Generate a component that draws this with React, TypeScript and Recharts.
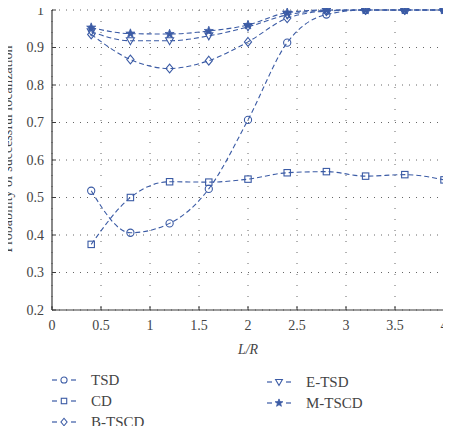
import React from "react";
import { LineChart, Line, XAxis, YAxis, CartesianGrid, Legend, Label } from "recharts";

const xValues = [0.4, 0.8, 1.2, 1.6, 2.0, 2.4, 2.8, 3.2, 3.6, 4.0];
const tsd = [0.518, 0.406, 0.431, 0.523, 0.707, 0.913, 0.988, 1, 1, 1];
const cd = [0.375, 0.5, 0.542, 0.541, 0.549, 0.566, 0.569, 0.557, 0.561, 0.547];
const bTscd = [0.935, 0.868, 0.844, 0.865, 0.915, 0.978, 0.997, 1, 1, 1];
const eTsd = [0.942, 0.918, 0.918, 0.931, 0.955, 0.987, 0.999, 1, 1, 1];
const mTscd = [0.953, 0.937, 0.936, 0.944, 0.96, 0.993, 1, 1, 1, 1];

const xTicks = [0, 0.5, 1, 1.5, 2, 2.5, 3, 3.5, 4];
const yTicks = [0.2, 0.3, 0.4, 0.5, 0.6, 0.7, 0.8, 0.9, 1];

const COLOR = "#3b5ba5";
const FRAME = "#3a3a3a";
const TEXT = "#444";
const FONT = "Liberation Serif";

type Shape = "circle" | "square" | "diamond" | "triangleDown" | "star";

const series: { key: string; name: string; shape: Shape; values: number[] }[] = [
  { key: "tsd", name: "TSD", shape: "circle", values: tsd },
  { key: "cd", name: "CD", shape: "square", values: cd },
  { key: "eTsd", name: "E-TSD", shape: "triangleDown", values: eTsd },
  { key: "mTscd", name: "M-TSCD", shape: "star", values: mTscd },
  { key: "bTscd", name: "B-TSCD", shape: "diamond", values: bTscd },
];

const data = xValues.map((x, i) => {
  const row: Record<string, number> = { x };
  series.forEach((s) => {
    row[s.key] = s.values[i];
  });
  return row;
});

function starPath(cx: number, cy: number, ro: number, ri: number) {
  let d = "";
  for (let i = 0; i < 10; i++) {
    const r = i % 2 === 0 ? ro : ri;
    const a = -Math.PI / 2 + (i * Math.PI) / 5;
    d += (i === 0 ? "M" : "L") + (cx + r * Math.cos(a)).toFixed(2) + "," + (cy + r * Math.sin(a)).toFixed(2);
  }
  return d + "Z";
}

function Marker({ shape, cx, cy, s = 1 }: { shape: Shape; cx: number; cy: number; s?: number }) {
  const common = { stroke: COLOR, strokeWidth: 1.1, fill: "none" };
  switch (shape) {
    case "circle":
      return <circle cx={cx} cy={cy} r={3.6 * s} {...common} />;
    case "square":
      return <rect x={cx - 3.2 * s} y={cy - 3.2 * s} width={6.4 * s} height={6.4 * s} {...common} />;
    case "diamond":
      return (
        <path
          d={`M${cx},${cy - 4.4 * s}L${cx + 3.6 * s},${cy}L${cx},${cy + 4.4 * s}L${cx - 3.6 * s},${cy}Z`}
          {...common}
        />
      );
    case "triangleDown":
      return (
        <path
          d={`M${cx - 4 * s},${cy - 3 * s}L${cx + 4 * s},${cy - 3 * s}L${cx},${cy + 4 * s}Z`}
          {...common}
        />
      );
    case "star":
      return <path d={starPath(cx, cy, 4.8 * s, 2 * s)} stroke={COLOR} strokeWidth={0.8} fill={COLOR} />;
  }
  return null;
}

const legendLeft = [series[0], series[1], series[4]];
const legendRight = [series[2], series[3]];

function LegendItem({ s, left, top }: { s: (typeof series)[number]; left: number; top: number }) {
  return (
    <div style={{ position: "absolute", left, top, height: 18, display: "flex", alignItems: "center" }}>
      <svg width={27} height={14} style={{ display: "block" }}>
        <line x1={1} y1={7} x2={6} y2={7} stroke={COLOR} strokeWidth={1.2} />
        <line x1={20} y1={7} x2={25} y2={7} stroke={COLOR} strokeWidth={1.2} />
        <Marker shape={s.shape} cx={13} cy={7} s={0.85} />
      </svg>
      <span
        style={{
          marginLeft: 13,
          fontFamily: FONT,
          fontSize: 15,
          color: TEXT,
          lineHeight: "18px",
          whiteSpace: "nowrap",
        }}
      >
        {s.name}
      </span>
    </div>
  );
}

function LegendContent() {
  return (
    <div style={{ position: "relative", width: 451, height: 60 }}>
      {legendLeft.map((s, i) => (
        <LegendItem key={s.key} s={s} left={51} top={1 + i * 21} />
      ))}
      {legendRight.map((s, i) => (
        <LegendItem key={s.key} s={s} left={266} top={3 + i * 21} />
      ))}
    </div>
  );
}

const tickStyle = { fontFamily: FONT, fontSize: 14, fill: TEXT };

function YLabel() {
  const x = 11.5;
  const y = 149;
  return (
    <text
      x={x}
      y={y}
      transform={`rotate(-90, ${x}, ${y})`}
      textAnchor="middle"
      fontFamily={FONT}
      fontSize={14}
      fill={TEXT}
    >
      Probability of successful localization
    </text>
  );
}

export default function App() {
  return (
    <div style={{ position: "relative", left: -8, top: -8, width: 451, height: 426 }}>
      <LineChart width={451} height={426} data={data} margin={{ top: 10, right: 7, left: 0, bottom: 60 }}>
        <CartesianGrid horizontal={true} vertical={false} stroke="#666" strokeDasharray="1 6" />
        <CartesianGrid horizontal={false} vertical={true} stroke="#666" strokeDasharray="1 10" />
        <XAxis
          dataKey="x"
          type="number"
          domain={[0, 4]}
          ticks={xTicks}
          interval={0}
          height={56}
          tickSize={-4}
          tickMargin={14}
          tick={tickStyle}
          stroke={FRAME}
          axisLine={{ stroke: FRAME, strokeWidth: 1.2 }}
          tickLine={{ stroke: FRAME }}
          label={{
            value: "L/R",
            position: "insideTop",
            offset: 34,
            style: { fontFamily: FONT, fontSize: 14, fontStyle: "italic", fill: TEXT },
          }}
        />
        <XAxis
          xAxisId="top"
          orientation="top"
          dataKey="x"
          type="number"
          domain={[0, 4]}
          ticks={xTicks}
          height={0}
          tickSize={-4}
          tick={false}
          axisLine={{ stroke: FRAME, strokeWidth: 1.2 }}
          tickLine={{ stroke: FRAME }}
        />
        <YAxis
          type="number"
          domain={[0.2, 1]}
          ticks={yTicks}
          interval={0}
          width={52}
          tickSize={-4}
          tickMargin={12}
          tick={tickStyle}
          axisLine={{ stroke: FRAME, strokeWidth: 1.2 }}
          tickLine={{ stroke: FRAME }}
        >
          <Label content={() => <YLabel />} />
        </YAxis>
        <YAxis
          yAxisId="right"
          orientation="right"
          type="number"
          domain={[0.2, 1]}
          ticks={yTicks}
          width={0}
          tickSize={-4}
          tick={false}
          axisLine={{ stroke: FRAME, strokeWidth: 1.2 }}
          tickLine={{ stroke: FRAME }}
        />
        <Legend
          layout="horizontal"
          verticalAlign="middle"
          align="center"
          content={() => <LegendContent />}
          wrapperStyle={{ position: "absolute", left: 0, top: 370, width: 451, height: 60 }}
        />
        {series.map((s) => (
          <Line
            key={s.key}
            dataKey={s.key}
            name={s.name}
            type="monotone"
            stroke={COLOR}
            strokeWidth={1.1}
            strokeDasharray="5 3"
            isAnimationActive={false}
            dot={(p: any) => <Marker key={`${s.key}-${p.index}`} shape={s.shape} cx={p.cx} cy={p.cy} />}
            activeDot={false}
          />
        ))}
      </LineChart>
    </div>
  );
}
